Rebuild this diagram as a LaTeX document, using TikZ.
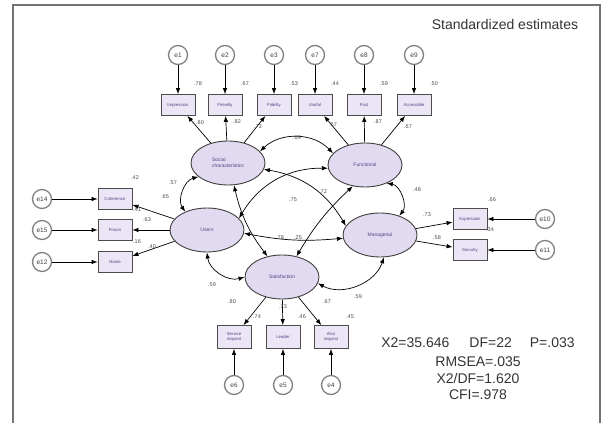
\documentclass[tikz,border=0pt]{standalone}
\usepackage{fontspec}
\setsansfont{Liberation Sans}
\usetikzlibrary{arrows.meta,shapes.geometric}
\definecolor{latfill}{RGB}{226,218,240}
\definecolor{obsfill}{RGB}{236,229,246}
\definecolor{labtext}{RGB}{86,66,130}

\begin{document}
\begin{tikzpicture}[x=1pt, y=1pt, line width=0.7pt,
  lat/.style={ellipse, draw=black!75, line width=0.9pt, fill=latfill, minimum width=74pt,
    minimum height=44pt, inner sep=0pt, align=left, text=labtext,
    font=\sffamily\fontsize{5}{6}\selectfont},
  obs/.style={rectangle, draw=black!70, line width=0.8pt, fill=obsfill, minimum width=34pt,
    minimum height=21pt, inner sep=1pt, align=center, text=labtext,
    font=\sffamily\fontsize{4.3}{5}\selectfont},
  err/.style={circle, draw=black!50, line width=1.3pt, fill=white, minimum size=19pt,
    inner sep=0pt, text=black!75, font=\sffamily\fontsize{6.5}{7}\selectfont},
  num/.style={inner sep=0pt, text=black!70, font=\sffamily\fontsize{5.5}{6}\selectfont},
  stat/.style={inner sep=0pt, text=black!80, font=\sffamily\fontsize{14}{16}\selectfont},
  load/.style={-{Latex[length=6pt,width=4.5pt]}},
  covar/.style={{Latex[length=6pt,width=4.5pt]}-{Latex[length=6pt,width=4.5pt]}}]
  \useasboundingbox (0,0) rectangle (605,423);
  \draw[black!55, line width=1.5pt] (13,0) -- (13,418) -- (600,418) -- (600,0);

  \node[stat] (title) at (505,398) {Standardized estimates};

  \node[lat] (soc) at (228,260) {Social\\characteristics};
  \node[lat] (fun) at (365,258) {Functional};
  \node[lat] (usr) at (207,193) {Users};
  \node[lat] (man) at (380,188) {Managerial};
  \node[lat] (sat) at (282,146) {Satisfaction};

  \node[obs] (impr) at (178,318) {Impression};
  \node[obs] (frnd) at (225,318) {Friendly};
  \node[obs] (fidl) at (274,318) {Fidelity};
  \node[obs] (usef) at (315,318) {Useful};
  \node[obs] (fast) at (364,318) {Fast};
  \node[obs] (accs) at (414,318) {Accessible};
  \node[obs] (cohr) at (115,224) {Coherence};
  \node[obs] (forum) at (115,193) {Forum};
  \node[obs] (name) at (115,161) {Name};
  \node[obs] (expr) at (470,204) {Expression};
  \node[obs] (secu) at (470,173) {Security};
  \node[obs, minimum height=23pt] (serv) at (234,86) {Service\\request};
  \node[obs, minimum height=23pt] (lead) at (283,86) {Leader};
  \node[obs, minimum height=23pt] (also) at (331,86) {Also\\request};

  \node[err] (e1) at (178,368) {e1};
  \node[err] (e2) at (225,368) {e2};
  \node[err] (e3) at (274,368) {e3};
  \node[err] (e7) at (315,368) {e7};
  \node[err] (e8) at (364,368) {e8};
  \node[err] (e9) at (414,368) {e9};
  \node[err] (e14) at (42,224) {e14};
  \node[err] (e15) at (42,193) {e15};
  \node[err] (e12) at (42,161) {e12};
  \node[err] (e10) at (545,204) {e10};
  \node[err] (e11) at (545,173) {e11};
  \node[err] (e6) at (234,38) {e6};
  \node[err] (e5) at (283,38) {e5};
  \node[err] (e4) at (331,38) {e4};

  \foreach \src/\dst in {e1/impr, e2/frnd, e3/fidl, e7/usef, e8/fast, e9/accs,
      e14/cohr, e15/forum, e12/name, e10/expr, e11/secu, e6/serv, e5/lead, e4/also,
      soc/impr, soc/frnd, soc/fidl, fun/usef, fun/fast, fun/accs,
      usr/cohr, usr/forum, usr/name, man/expr, man/secu,
      sat/serv, sat/lead, sat/also}
    \draw[load] (\src) -- (\dst);

  \draw[covar] (soc.20) to[bend left=45] (fun.160);
  \draw[covar] (soc.205) to[bend right=55] (usr.140);
  \draw[covar] (soc.285) to[bend right=12] (sat.125);
  \draw[covar] (soc.350) to[bend left=25] (man.165);
  \draw[covar] (fun.185) to[bend right=30] (usr.20);
  \draw[covar] (fun.320) to[bend left=60] (man.45);
  \draw[covar] (fun.240) to[bend right=8] (sat.55);
  \draw[covar] (usr.355) to[bend right=8] (man.185);
  \draw[covar] (usr.270) to[bend right=50] (sat.180);
  \draw[covar] (sat.350) to[bend right=50] (man.280);

  \node[num] (r1) at (198,339) {.78};
  \node[num] (r2) at (245,339) {.67};
  \node[num] (r3) at (294,339) {.53};
  \node[num] (r7) at (335,339) {.44};
  \node[num] (r8) at (384,339) {.59};
  \node[num] (r9) at (434,339) {.50};
  \node[num] (l1) at (200,300) {.80};
  \node[num] (l2) at (237,301) {.82};
  \node[num] (l3) at (258,296) {.72};
  \node[num] (l7) at (333,298) {.67};
  \node[num] (l8) at (378,301) {.87};
  \node[num] (l9) at (408,296) {.67};
  \node[num] (r14) at (135,245) {.42};
  \node[num] (r15) at (137,213) {.41};
  \node[num] (r12) at (137,181) {.16};
  \node[num] (l14) at (165,226) {.65};
  \node[num] (l15) at (147,203) {.63};
  \node[num] (l12) at (152,176) {.40};
  \node[num] (r10) at (492,223) {.66};
  \node[num] (r11) at (490,193) {.34};
  \node[num] (l10) at (427,208) {.73};
  \node[num] (l11) at (437,185) {.58};
  \node[num] (l6) at (232,121) {.80};
  \node[num] (r6) at (257,106) {.74};
  \node[num] (l5) at (283,116) {.73};
  \node[num] (r5) at (302,106) {.46};
  \node[num] (l4) at (327,121) {.67};
  \node[num] (r4) at (350,106) {.45};
  \node[num] (csf) at (297,285) {.69};
  \node[num] (csu) at (173,240) {.57};
  \node[num] (cfm) at (417,233) {.48};
  \node[num] (cus) at (212,138) {.59};
  \node[num] (cms) at (358,126) {.59};
  \node[num] (csm) at (293,223) {.75};
  \node[num] (cfs) at (323,231) {.72};
  \node[num] (cum) at (280,185) {.78};
  \node[num] (cfu) at (298,185) {.25};

  \node[stat] (fit) at (478,80) {X2=35.646\hspace{20pt}DF=22\hspace{18pt}P=.033};
  \node[stat] (rmsea) at (478,61) {RMSEA=.035};
  \node[stat] (ratio) at (478,45) {X2/DF=1.620};
  \node[stat] (cfi) at (478,28) {CFI=.978};
\end{tikzpicture}
\end{document}
